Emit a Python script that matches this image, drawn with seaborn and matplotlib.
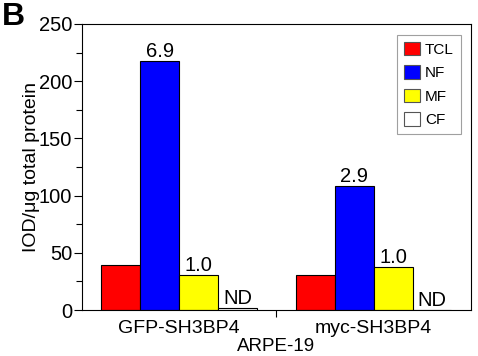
import matplotlib
matplotlib.use("Agg")
import matplotlib.pyplot as plt
import seaborn as sns
import pandas as pd
from matplotlib.ticker import MultipleLocator

groups = ["GFP-SH3BP4", "myc-SH3BP4"]
fractions = ["TCL", "NF", "MF", "CF"]
values_gfp = [39, 218, 31, 1.5]
values_myc = [31, 108, 38, 0]
labels_gfp = ["", "6.9", "1.0", "ND"]
labels_myc = ["", "2.9", "1.0", "ND"]
colors = ["#ff0000", "#0000ff", "#ffff00", "#ffffff"]

rows = []
for g, vals in zip(groups, [values_gfp, values_myc]):
    for f, v in zip(fractions, vals):
        rows.append({"group": g, "fraction": f, "value": v})
df = pd.DataFrame(rows)

sns.set_style("ticks")
plt.rcParams['font.family'] = ['Liberation Sans', 'DejaVu Sans']
for k in ["text.color", "axes.labelcolor", "xtick.color", "ytick.color", "axes.edgecolor"]:
    plt.rcParams[k] = "black"

fig = plt.figure(figsize=(4.78, 3.56), dpi=100)
ax = fig.add_axes([0.1715, 0.1292, 0.8135, 0.8034])
sns.barplot(data=df, x="group", y="value", hue="fraction", order=groups,
            hue_order=fractions, palette=colors, width=0.8,
            edgecolor="black", linewidth=0.8, ax=ax, errorbar=None, saturation=1)

for i, cont in enumerate(ax.containers):
    labs = [labels_gfp[i], labels_myc[i]]
    ax.bar_label(cont, labels=labs, fontsize=14.5, padding=0)

ax.set_ylim(0, 250)
ax.set_xlim(-0.5, 1.5)
ax.yaxis.set_major_locator(MultipleLocator(50))
ax.yaxis.set_minor_locator(MultipleLocator(25))
ax.set_xticks([0.5], minor=True)
ax.tick_params(axis="x", which="major", length=0, labelsize=14, pad=7)
ax.tick_params(axis="x", which="minor", length=5, width=0.8, direction="out")
ax.tick_params(axis="y", which="major", length=6, width=0.8, labelsize=14.5, direction="out", pad=1)
ax.tick_params(axis="y", which="minor", length=4, width=0.8, direction="out")
for s in ax.spines.values():
    s.set_visible(True)
    s.set_linewidth(0.8)
    s.set_color("black")
ax.set_ylabel("IOD/μg total protein", fontsize=14, labelpad=-1)
ax.set_xlabel("ARPE-19", fontsize=13.5)
ax.xaxis.set_label_coords(0.5, -0.098)

leg = ax.legend(loc="upper right", bbox_to_anchor=(0.974, 0.962), frameon=True,
                fontsize=11, handlelength=1.1, handleheight=1.0, borderaxespad=0,
                labelspacing=0.55, borderpad=0.45, handletextpad=0.3, fancybox=False)
leg.get_frame().set_edgecolor("#888888")
leg.get_frame().set_linewidth(0.8)
for h in leg.legend_handles:
    h.set_edgecolor("#555555")

fig.text(0.004, 0.995, "B", fontsize=23, fontweight="bold", va="top", ha="left")

fig.savefig("out.png", dpi=100)
